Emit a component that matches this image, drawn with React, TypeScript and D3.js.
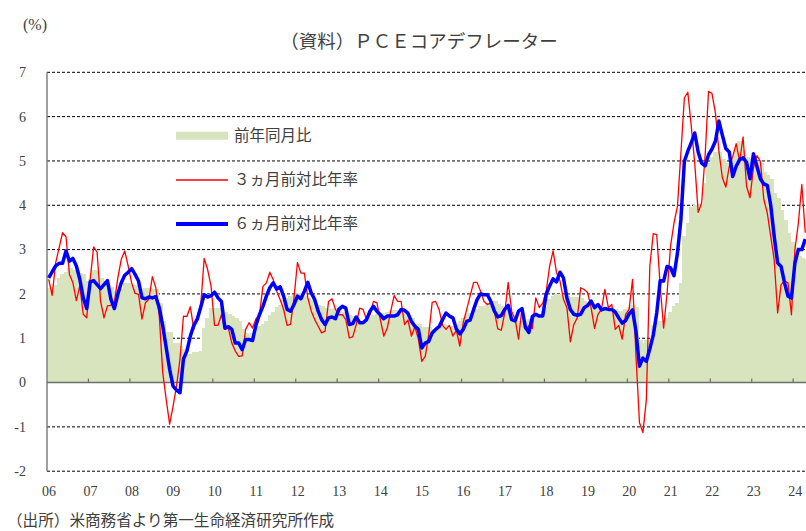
import { useEffect, useRef } from "react";
import * as d3 from "d3";

// 2006年1月〜2024年4月（月次）
const startYear = 2006;
const yearLabels = ["06", "07", "08", "09", "10", "11", "12", "13", "14", "15", "16", "17", "18", "19", "20", "21", "22", "23", "24"];
const yTicks = [-2, -1, 0, 1, 2, 3, 4, 5, 6, 7];

// 前年同月比
const yoy = [
  2.14, 2.16, 2.2, 2.36, 2.44, 2.5, 2.59, 2.55, 2.55, 2.48, 2.45, 2.29,
  2.33, 2.55, 2.52, 2.36, 2.3, 2.21, 2.15, 2.06, 2.1, 2.12, 2.25, 2.25,
  2.21, 2.2, 2.1, 2.1, 2.14, 2.14, 2.1, 2.1, 1.8, 1.39, 1.13, 1.13,
  0.9, 0.9, 0.83, 0.75, 0.64, 0.64, 0.68, 0.7, 0.71, 1.23, 1.46, 1.68,
  1.68, 1.68, 1.65, 1.6, 1.55, 1.5, 1.45, 1.38, 1.21, 1.12, 1.1, 1.12,
  1.2, 1.27, 1.32, 1.38, 1.53, 1.6, 1.7, 1.76, 1.87, 1.9, 1.95, 1.98,
  2.02, 2.0, 1.95, 1.9, 1.87, 1.8, 1.76, 1.72, 1.68, 1.65, 1.65, 1.68,
  1.65, 1.6, 1.55, 1.53, 1.5, 1.45, 1.38, 1.4, 1.42, 1.48, 1.53, 1.55,
  1.57, 1.57, 1.6, 1.63, 1.63, 1.63, 1.59, 1.55, 1.48, 1.45, 1.31, 1.31,
  1.26, 1.26, 1.26, 1.2, 1.2, 1.2, 1.31, 1.3, 1.26, 1.28, 1.3, 1.38,
  1.45, 1.56, 1.58, 1.61, 1.65, 1.72, 1.72, 1.8, 1.83, 1.83, 1.78, 1.72,
  1.68, 1.6, 1.45, 1.43, 1.39, 1.39, 1.39, 1.43, 1.43, 1.5, 1.55, 1.61,
  1.7, 1.88, 1.95, 1.99, 1.99, 1.95, 1.95, 1.94, 1.94, 1.94, 1.9, 1.84,
  1.8, 1.69, 1.69, 1.67, 1.67, 1.65, 1.65, 1.67, 1.65, 1.61, 1.61, 1.65,
  1.7, 1.75, 1.7, 0.95, 0.9, 0.95, 0.98, 1.3, 1.36, 1.38, 1.4, 1.45,
  1.6, 1.72, 1.8, 2.24, 3.3, 3.6, 3.97, 4.0, 4.0, 4.02, 4.5, 4.95,
  5.1, 5.2, 5.2, 5.05, 4.95, 4.95, 5.05, 5.3, 5.45, 5.25, 5.1, 5.05,
  5.05, 5.0, 4.95, 4.76, 4.68, 4.6, 4.27, 4.16, 3.9, 3.67, 3.37, 3.18,
  3.05, 2.85, 2.82, 2.78,
];

// ３ヵ月前対比年率
const m3 = [
  2.33, 1.97, 2.7, 3.04, 3.38, 3.29, 2.44, 2.25, 1.85, 2.18, 1.54, 1.46,
  2.33, 3.06, 2.94, 1.84, 1.46, 1.73, 1.74, 1.8, 2.36, 2.78, 2.97, 2.63,
  2.25, 2.01, 1.99, 1.43, 1.8, 1.88, 2.39, 2.14, 1.5, 0.23, -0.38, -0.94,
  -0.53, -0.08, 0.53, 1.5, 1.49, 1.71, 1.2, 1.5, 1.75, 2.8, 2.55, 2.17,
  1.29, 1.29, 1.53, 1.2, 1.23, 0.89, 0.71, 0.59, 0.6, 1.2, 1.35, 1.23,
  1.44, 1.53, 2.17, 2.25, 2.49, 2.32, 2.06, 1.87, 1.65, 1.29, 1.31, 1.91,
  2.71, 2.47, 2.47, 1.91, 1.61, 1.42, 1.27, 1.12, 1.16, 1.83, 1.89, 1.65,
  1.53, 1.53, 1.42, 1.01, 1.03, 1.3, 1.68, 1.65, 1.42, 1.53, 1.83, 1.8,
  1.42, 1.05, 1.23, 1.61, 1.96, 1.83, 1.83, 1.31, 1.41, 1.05, 1.26, 0.98,
  0.48, 0.59, 1.08, 1.81, 1.83, 1.65, 1.29, 1.2, 1.29, 1.05, 1.18, 0.82,
  1.36, 1.65, 1.96, 2.26, 2.26, 2.06, 1.83, 1.76, 1.8, 1.6, 1.21, 1.18,
  1.57, 2.26, 1.61, 1.43, 0.98, 1.69, 1.2, 1.28, 1.22, 1.91, 1.69, 1.79,
  2.06, 2.63, 2.97, 2.48, 2.29, 1.88, 1.69, 0.92, 1.31, 1.46, 2.14, 2.1,
  2.03, 1.69, 1.22, 1.54, 1.65, 2.1, 1.69, 1.76, 1.2, 1.29, 0.98, 1.54,
  1.65, 2.33, 0.6, -0.9, -1.13, -0.38, 2.63, 3.36, 3.34, 2.18, 1.23, 2.02,
  3.08, 3.6, 3.98, 5.18, 6.42, 6.55, 5.78, 4.95, 3.84, 4.05, 5.11, 6.57,
  6.52, 6.08, 5.22, 4.62, 4.41, 4.88, 5.1, 5.39, 4.99, 5.54, 4.43, 4.17,
  4.84, 5.12, 4.99, 4.13, 3.83, 3.3, 2.77, 1.57, 2.21, 2.29, 2.25, 1.53,
  3.0, 3.6, 4.47, 3.38,
];

// ６ヵ月前対比年率
const m6 = [
  2.36, 2.5, 2.63, 2.69, 2.69, 2.97, 2.74, 2.8, 2.63, 2.33, 1.91, 1.67,
  2.27, 2.3, 2.21, 2.12, 2.21, 2.3, 1.88, 1.67, 1.99, 2.25, 2.42, 2.49,
  2.57, 2.44, 2.29, 1.91, 1.89, 1.93, 1.91, 1.94, 1.69, 1.28, 0.79, 0.3,
  -0.08, -0.17, -0.23, 0.53, 0.71, 1.05, 1.29, 1.43, 1.7, 1.98, 1.93, 1.96,
  2.04, 1.91, 1.83, 1.23, 1.26, 1.2, 0.89, 0.89, 0.74, 0.97, 0.97, 0.95,
  1.3, 1.53, 1.72, 1.95, 2.14, 2.25, 2.11, 2.16, 1.95, 1.65, 1.61, 1.76,
  1.95, 1.89, 2.06, 2.26, 2.02, 1.87, 1.61, 1.42, 1.31, 1.46, 1.48, 1.44,
  1.65, 1.72, 1.68, 1.31, 1.33, 1.48, 1.35, 1.35, 1.42, 1.61, 1.72, 1.61,
  1.53, 1.44, 1.5, 1.5, 1.5, 1.53, 1.65, 1.63, 1.56, 1.38, 1.27, 1.2,
  0.78, 0.89, 0.93, 1.12, 1.2, 1.26, 1.42, 1.57, 1.5, 1.46, 1.21, 1.1,
  1.2, 1.38, 1.41, 1.65, 1.87, 2.0, 1.98, 1.98, 1.83, 1.61, 1.48, 1.51,
  1.65, 1.74, 1.42, 1.39, 1.61, 1.67, 1.24, 1.13, 1.49, 1.54, 1.5, 1.5,
  1.99, 2.18, 2.34, 2.27, 2.49, 2.36, 1.91, 1.65, 1.54, 1.52, 1.54, 1.69,
  1.74, 1.84, 1.69, 1.76, 1.64, 1.67, 1.65, 1.65, 1.59, 1.46, 1.34, 1.4,
  1.55, 1.64, 1.15, 0.37, 0.55, 0.48, 0.76, 1.07, 1.57, 2.3, 2.29, 2.62,
  2.59, 2.41, 2.92, 3.68, 4.99, 5.22, 5.41, 5.63, 5.2, 4.95, 4.89, 5.14,
  5.27, 5.45, 5.9, 5.58, 5.28, 5.2, 4.65, 4.88, 5.03, 5.07, 4.97, 4.6,
  5.16, 4.88, 4.6, 4.48, 4.45, 4.0, 3.3, 2.7, 2.62, 2.25, 1.95, 1.91,
  2.7, 3.0, 3.0, 3.24,
];

const legendItems = ["前年同月比", "３ヵ月前対比年率", "６ヵ月前対比年率"];

const FONT = "'Liberation Serif', 'Noto Sans CJK JP', serif";
const TEXT = "#404040";

export default function App() {
  const svgRef = useRef<SVGSVGElement>(null);
  const W = 806;
  const H = 531;

  useEffect(() => {
    if (!svgRef.current) return;
    const svg = d3.select(svgRef.current);
    svg.selectAll("*").remove();

    const months = yoy.map((_, i) => `${startYear + Math.floor(i / 12)}-${(i % 12) + 1}`);
    const left = 47;
    const right = 807;
    const x = d3.scaleBand().domain(months).range([left, right]).padding(0);
    const y = d3.scaleLinear().domain([-2, 7]).range([471.2, 72.3]);
    const cx = (i: number) => (x(months[i]) || 0) + x.bandwidth() / 2;

    // 目盛線（点線）
    svg
      .append("g")
      .selectAll("line")
      .data(yTicks.filter((t) => t !== 0))
      .enter()
      .append("line")
      .attr("x1", left)
      .attr("x2", right)
      .attr("y1", (d) => y(d))
      .attr("y2", (d) => y(d))
      .attr("stroke", "#000")
      .attr("stroke-width", 1)
      .attr("stroke-dasharray", "3,2");

    // 前年同月比（棒、間隔なし）
    svg
      .append("g")
      .attr("shape-rendering", "crispEdges")
      .selectAll("rect")
      .data(yoy)
      .enter()
      .append("rect")
      .attr("x", (_, i) => Math.floor(x(months[i]) || 0))
      .attr("width", (_, i) => Math.ceil((x(months[i]) || 0) + x.bandwidth()) - Math.floor(x(months[i]) || 0) + 1)
      .attr("y", (d) => Math.min(y(d), y(0)))
      .attr("height", (d) => Math.abs(y(0) - y(d)))
      .attr("fill", "#D7E4BD");

    // 軸
    svg
      .append("line")
      .attr("x1", left)
      .attr("x2", left)
      .attr("y1", y(7))
      .attr("y2", y(-2))
      .attr("stroke", "#808080")
      .attr("stroke-width", 1.5);
    svg
      .append("line")
      .attr("x1", left)
      .attr("x2", right)
      .attr("y1", y(0))
      .attr("y2", y(0))
      .attr("stroke", "#6e6e6e")
      .attr("stroke-width", 1.5);

    const yearX = (k: number) => x(months[k * 12]) || 0;
    svg
      .append("g")
      .selectAll("line")
      .data(yearLabels.slice(1))
      .enter()
      .append("line")
      .attr("x1", (_, k) => yearX(k + 1))
      .attr("x2", (_, k) => yearX(k + 1))
      .attr("y1", y(0) - 4)
      .attr("y2", y(0))
      .attr("stroke", "#6e6e6e")
      .attr("stroke-width", 1.2);

    // 系列線
    const line = d3
      .line<number>()
      .x((_, i) => cx(i))
      .y((d) => y(d));

    svg
      .append("path")
      .datum(m3)
      .attr("d", line)
      .attr("fill", "none")
      .attr("stroke", "#FF0000")
      .attr("stroke-width", 1.3)
      .attr("stroke-linejoin", "round");

    svg
      .append("path")
      .datum(m6)
      .attr("d", line)
      .attr("fill", "none")
      .attr("stroke", "#0000FF")
      .attr("stroke-width", 3.5)
      .attr("stroke-linejoin", "round");

    // Y軸ラベル
    svg
      .append("g")
      .selectAll("text")
      .data(yTicks)
      .enter()
      .append("text")
      .attr("x", 26)
      .attr("y", (d) => y(d))
      .attr("dy", "0.35em")
      .attr("text-anchor", "end")
      .attr("font-size", 14)
      .attr("fill", TEXT)
      .text((d) => String(d));

    // 年ラベル
    svg
      .append("g")
      .selectAll("text")
      .data(yearLabels)
      .enter()
      .append("text")
      .attr("x", (_, k) => yearX(k) + 2)
      .attr("y", 491)
      .attr("dy", "0.35em")
      .attr("text-anchor", "middle")
      .attr("font-size", 14)
      .attr("fill", TEXT)
      .text((d) => d);

    // 凡例
    const lg = svg.append("g");
    const legendY = [y(5.57), y(4.57), y(3.58)];
    lg.append("rect")
      .attr("x", 176)
      .attr("y", legendY[0] - 4)
      .attr("width", 52)
      .attr("height", 8)
      .attr("fill", "#D7E4BD");
    lg.append("line")
      .attr("x1", 176)
      .attr("x2", 228)
      .attr("y1", legendY[1])
      .attr("y2", legendY[1])
      .attr("stroke", "#FF0000")
      .attr("stroke-width", 1.3);
    lg.append("line")
      .attr("x1", 176)
      .attr("x2", 228)
      .attr("y1", legendY[2])
      .attr("y2", legendY[2])
      .attr("stroke", "#0000FF")
      .attr("stroke-width", 4);
    lg.selectAll("text")
      .data(legendItems)
      .enter()
      .append("text")
      .attr("x", 234)
      .attr("y", (_, i) => legendY[i])
      .attr("dy", "0.35em")
      .attr("font-size", 15.5)
      .attr("fill", TEXT)
      .text((d) => d);

    // タイトル・単位・出所
    svg
      .append("text")
      .attr("x", 419)
      .attr("y", 42)
      .attr("dy", "0.35em")
      .attr("text-anchor", "middle")
      .attr("font-size", 18.5)
      .attr("fill", TEXT)
      .text("（資料）ＰＣＥコアデフレーター");
    svg
      .append("text")
      .attr("x", 23)
      .attr("y", 24)
      .attr("dy", "0.35em")
      .attr("font-size", 16)
      .attr("fill", TEXT)
      .text("(%)");
    svg
      .append("text")
      .attr("x", 7)
      .attr("y", 521)
      .attr("dy", "0.35em")
      .attr("font-size", 15.6)
      .attr("fill", TEXT)
      .text("（出所）米商務省より第一生命経済研究所作成");
  }, []);

  return (
    <div style={{ position: "absolute", left: 0, top: 0 }}>
      <svg ref={svgRef} width={W} height={H} viewBox={`0 0 ${W} ${H}`} style={{ display: "block", background: "#fff", fontFamily: FONT }} />
    </div>
  );
}
